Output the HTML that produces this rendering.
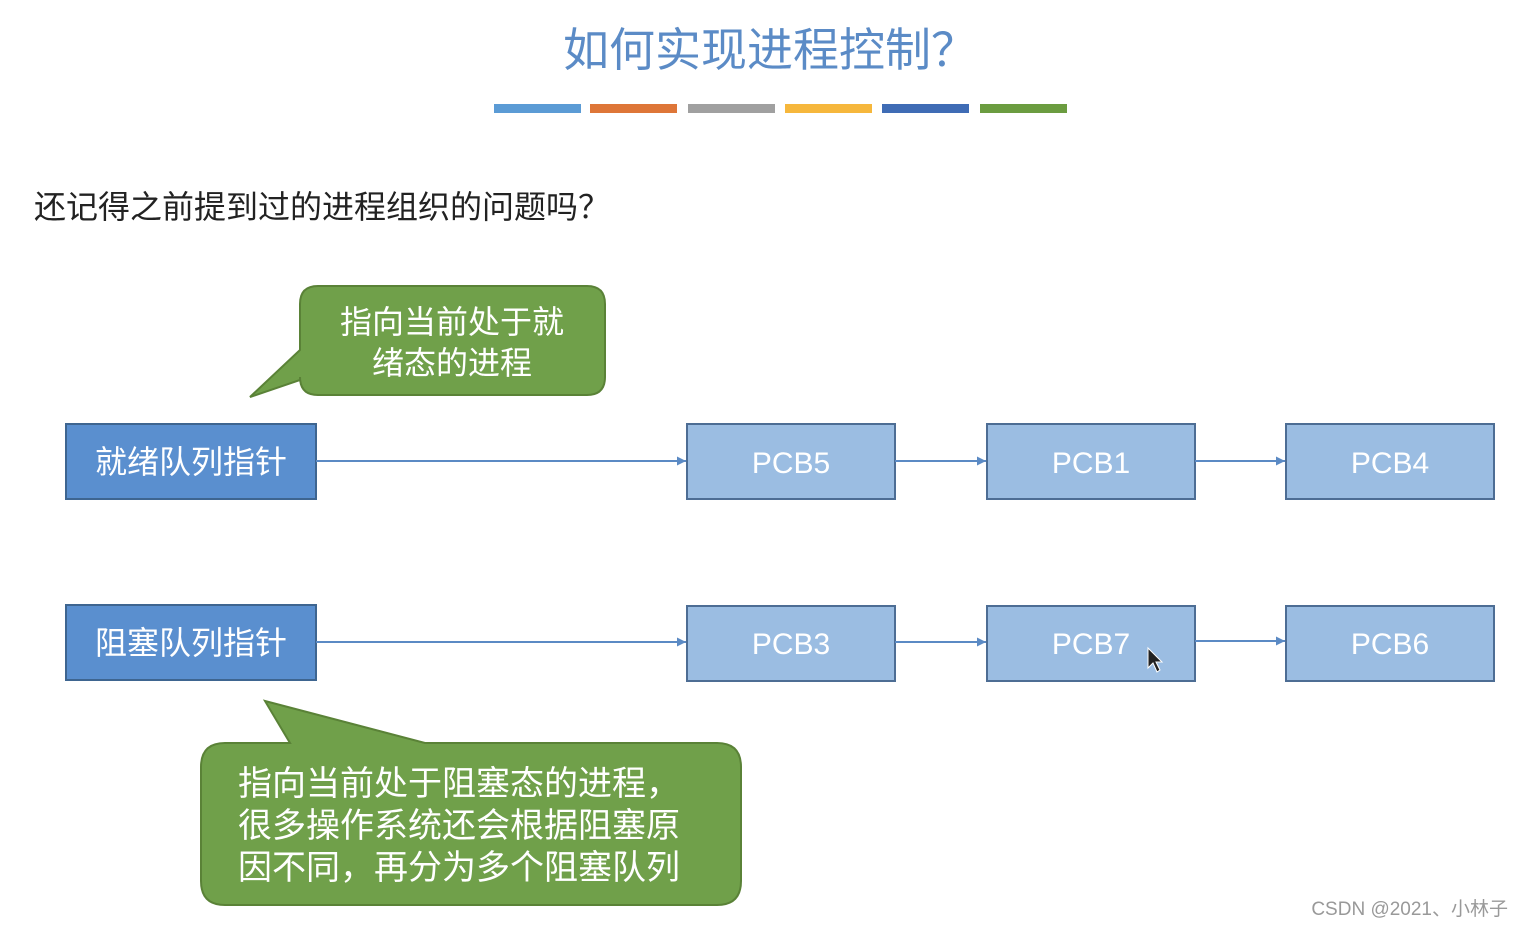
<!DOCTYPE html>
<html><head><meta charset="utf-8"><style>
html,body{margin:0;padding:0;background:#fff;}
svg{display:block}
text{font-family:"Liberation Sans","Noto Sans CJK SC",sans-serif;}
</style></head><body>
<svg width="1523" height="927" viewBox="0 0 1523 927" xmlns="http://www.w3.org/2000/svg">
<defs>
<marker id="a" viewBox="0 0 10 10" refX="10" refY="5" markerWidth="9" markerHeight="9" orient="auto" markerUnits="userSpaceOnUse"><path d="M0,0L10,5L0,10z" fill="#5b8ac4"/></marker>
</defs>
<text x="770" y="66" font-size="46" fill="#5b8bc6" text-anchor="middle">如何实现进程控制？</text>
<g>
<rect x="494" y="104" width="87" height="9" fill="#5b9bd5"/>
<rect x="590" y="104" width="87" height="9" fill="#de7638"/>
<rect x="688" y="104" width="87" height="9" fill="#a0a0a0"/>
<rect x="785" y="104" width="87" height="9" fill="#f6b73c"/>
<rect x="882" y="104" width="87" height="9" fill="#3f6cb5"/>
<rect x="980" y="104" width="87" height="9" fill="#6b9c40"/>
</g>
<text x="34" y="218" font-size="32" fill="#222">还记得之前提到过的进程组织的问题吗？</text>

<!-- callout 1 -->
<path d="M318,286 H587 Q605,286 605,304 V377 Q605,395 587,395 H318 Q300,395 300,377 V380 L250,397 L300,350 V304 Q300,286 318,286 Z" fill="#70a04a" stroke="#5a8237" stroke-width="2"/>
<text x="452" y="333" font-size="32" fill="#fff" text-anchor="middle">指向当前处于就</text>
<text x="452" y="374" font-size="32" fill="#fff" text-anchor="middle">绪态的进程</text>

<!-- callout 2 -->
<path d="M225,743 H290 L265,701 L425,743 H717 Q741,743 741,767 V881 Q741,905 717,905 H225 Q201,905 201,881 V767 Q201,743 225,743 Z" fill="#70a04a" stroke="#5a8237" stroke-width="2"/>
<text x="238" y="795" font-size="34" fill="#fff">指向当前处于阻塞态的进程，</text>
<text x="238" y="837" font-size="34" fill="#fff">很多操作系统还会根据阻塞原</text>
<text x="238" y="879" font-size="34" fill="#fff">因不同，再分为多个阻塞队列</text>

<!-- row 1 -->
<rect x="66" y="424" width="250" height="75" fill="#5a8fcf" stroke="#3e6590" stroke-width="2"/>
<text x="191" y="473" font-size="32" fill="#fff" text-anchor="middle">就绪队列指针</text>
<line x1="316" y1="461" x2="686" y2="461" stroke="#5b8ac4" stroke-width="2" marker-end="url(#a)"/>
<rect x="687" y="424" width="208" height="75" fill="#9bbde2" stroke="#4d6d94" stroke-width="2"/>
<text x="791" y="473" font-size="30" fill="#fff" text-anchor="middle">PCB5</text>
<line x1="895" y1="461" x2="986" y2="461" stroke="#5b8ac4" stroke-width="2" marker-end="url(#a)"/>
<rect x="987" y="424" width="208" height="75" fill="#9bbde2" stroke="#4d6d94" stroke-width="2"/>
<text x="1091" y="473" font-size="30" fill="#fff" text-anchor="middle">PCB1</text>
<line x1="1195" y1="461" x2="1285" y2="461" stroke="#5b8ac4" stroke-width="2" marker-end="url(#a)"/>
<rect x="1286" y="424" width="208" height="75" fill="#9bbde2" stroke="#4d6d94" stroke-width="2"/>
<text x="1390" y="473" font-size="30" fill="#fff" text-anchor="middle">PCB4</text>

<!-- row 2 -->
<rect x="66" y="605" width="250" height="75" fill="#5a8fcf" stroke="#3e6590" stroke-width="2"/>
<text x="191" y="654" font-size="32" fill="#fff" text-anchor="middle">阻塞队列指针</text>
<line x1="316" y1="642" x2="686" y2="642" stroke="#5b8ac4" stroke-width="2" marker-end="url(#a)"/>
<rect x="687" y="606" width="208" height="75" fill="#9bbde2" stroke="#4d6d94" stroke-width="2"/>
<text x="791" y="654" font-size="30" fill="#fff" text-anchor="middle">PCB3</text>
<line x1="895" y1="642" x2="986" y2="642" stroke="#5b8ac4" stroke-width="2" marker-end="url(#a)"/>
<rect x="987" y="606" width="208" height="75" fill="#9bbde2" stroke="#4d6d94" stroke-width="2"/>
<text x="1091" y="654" font-size="30" fill="#fff" text-anchor="middle">PCB7</text>
<line x1="1195" y1="641" x2="1285" y2="641" stroke="#5b8ac4" stroke-width="2" marker-end="url(#a)"/>
<rect x="1286" y="606" width="208" height="75" fill="#9bbde2" stroke="#4d6d94" stroke-width="2"/>
<text x="1390" y="654" font-size="30" fill="#fff" text-anchor="middle">PCB6</text>

<!-- cursor -->
<path d="M1148,648 L1148,668 L1153,663 L1157,672 L1160,670 L1156,662 L1162,662 Z" fill="#222" stroke="#fff" stroke-width="1"/>

<text x="1508" y="915" font-size="19" fill="#999" text-anchor="end">CSDN @2021、小林子</text>
</svg>
</body></html>
